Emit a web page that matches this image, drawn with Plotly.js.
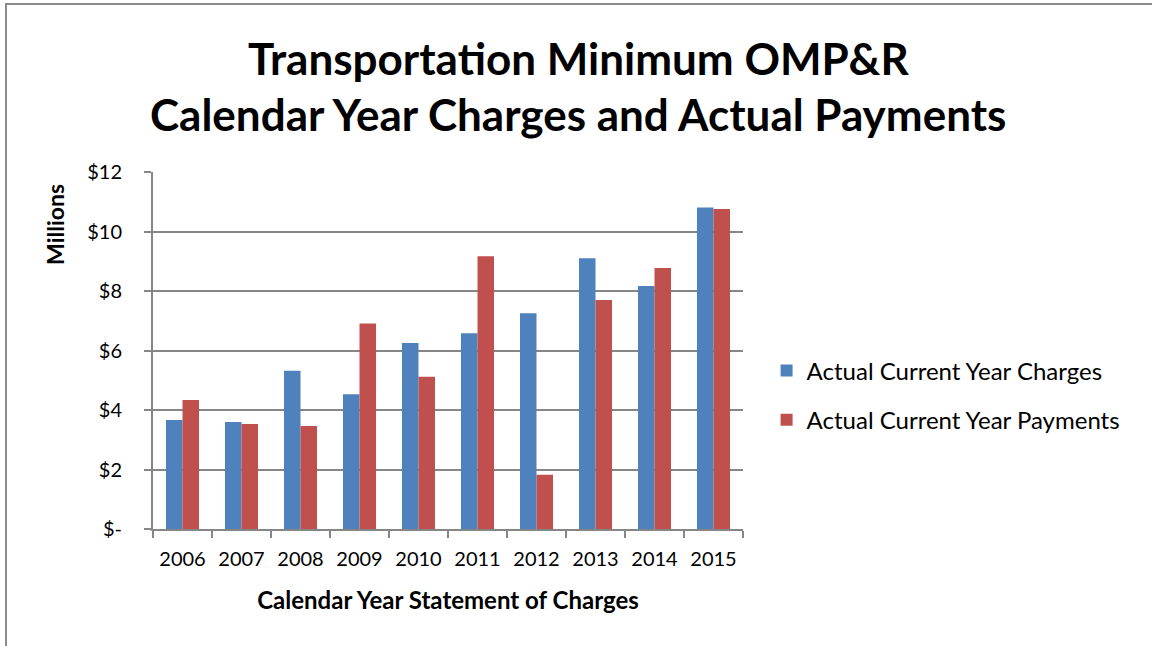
<!DOCTYPE html>
<html>
<head>
<meta charset="utf-8">
<script src="https://cdn.plot.ly/plotly-3.0.1.min.js"></script>
<style>
  html, body { margin: 0; padding: 0; background: #fff; }
  #frame { position: absolute; left: 5px; top: 3px; width: 1200px; height: 700px;
           border-left: 2px solid #8c8c8c; border-top: 2px solid #8c8c8c; pointer-events: none; z-index: 10; }
  #chart { width: 1152px; height: 646px; }
</style>
</head>
<body>
<div id="frame"></div>
<div id="chart"></div>
<script>
const years = ["2006","2007","2008","2009","2010","2011","2012","2013","2014","2015"];
const charges = [3.66, 3.60, 5.32, 4.53, 6.25, 6.58, 7.25, 9.10, 8.17, 10.81];
const payments = [4.34, 3.53, 3.46, 6.91, 5.12, 9.17, 1.82, 7.70, 8.77, 10.76];
const seriesNames = ["Actual Current Year Charges", "Actual Current Year Payments"];
const yTickVals = [0, 2, 4, 6, 8, 10, 12];
const yTickText = ["$-", "$2", "$4", "$6", "$8", "$10", "$12"];
const titleLines = ["Transportation Minimum OMP&R", "Calendar Year Charges and Actual Payments"];

const font = "Lato, 'Open Sans', sans-serif";

const traces = [
  { type: "bar", x: years, y: charges, name: seriesNames[0], legendgroup: "a",
    marker: { color: "#4F81BD" } },
  { type: "bar", x: years, y: payments, name: seriesNames[1], legendgroup: "b",
    marker: { color: "#C0504D" } }
];

const layout = {
  width: 1152, height: 646,
  paper_bgcolor: "#fff", plot_bgcolor: "#fff",
  margin: { l: 153, r: 409, t: 172, b: 117 },
  barmode: "group", bargap: 0.44, bargroupgap: 0,
  font: { family: font, color: "#000", size: 20 },
  xaxis: {
    type: "category",
    showgrid: false, showline: true, linecolor: "#868686", linewidth: 2,
    ticks: "outside", ticklen: 7, tickwidth: 2, tickcolor: "#868686", tickson: "boundaries",
    ticklabelstandoff: 11,
    tickfont: { family: font, size: 20 },
    title: { text: "<b>Calendar Year Statement of Charges</b>", font: { family: font, size: 24 }, standoff: 23 }
  },
  yaxis: {
    range: [0, 12], tickvals: yTickVals, ticktext: yTickText,
    showgrid: true, gridcolor: "#868686", gridwidth: 2,
    showline: true, linecolor: "#868686", linewidth: 2,
    ticks: "outside", ticklen: 7, tickwidth: 2, tickcolor: "#868686",
    ticklabelstandoff: 18,
    tickfont: { family: font, size: 20 },
    zeroline: false, fixedrange: true
  },
  legend: {
    x: 1.04, xanchor: "left", y: 0.506, yanchor: "top",
    font: { family: font, size: 24 },
    tracegroupgap: 15, itemwidth: 30
  },
  annotations: [
    { text: "<b>" + titleLines[0] + "</b>", showarrow: false,
      xref: "paper", yref: "paper", x: (578 - 153) / 590, y: (529 - 58) / 357,
      xanchor: "center", yanchor: "middle", font: { family: font, size: 44 } },
    { text: "<b>" + titleLines[1] + "</b>", showarrow: false,
      xref: "paper", yref: "paper", x: (578 - 153) / 590, y: (529 - 114) / 357,
      xanchor: "center", yanchor: "middle", font: { family: font, size: 44 } },
    { text: "<b>Millions</b>", textangle: -90, showarrow: false,
      xref: "paper", yref: "paper", x: -0.166, y: 0.852, xanchor: "center", yanchor: "middle",
      font: { family: font, size: 23 } }
  ]
};

Plotly.newPlot("chart", traces, layout, { displayModeBar: false, staticPlot: true });
</script>
</body>
</html>
